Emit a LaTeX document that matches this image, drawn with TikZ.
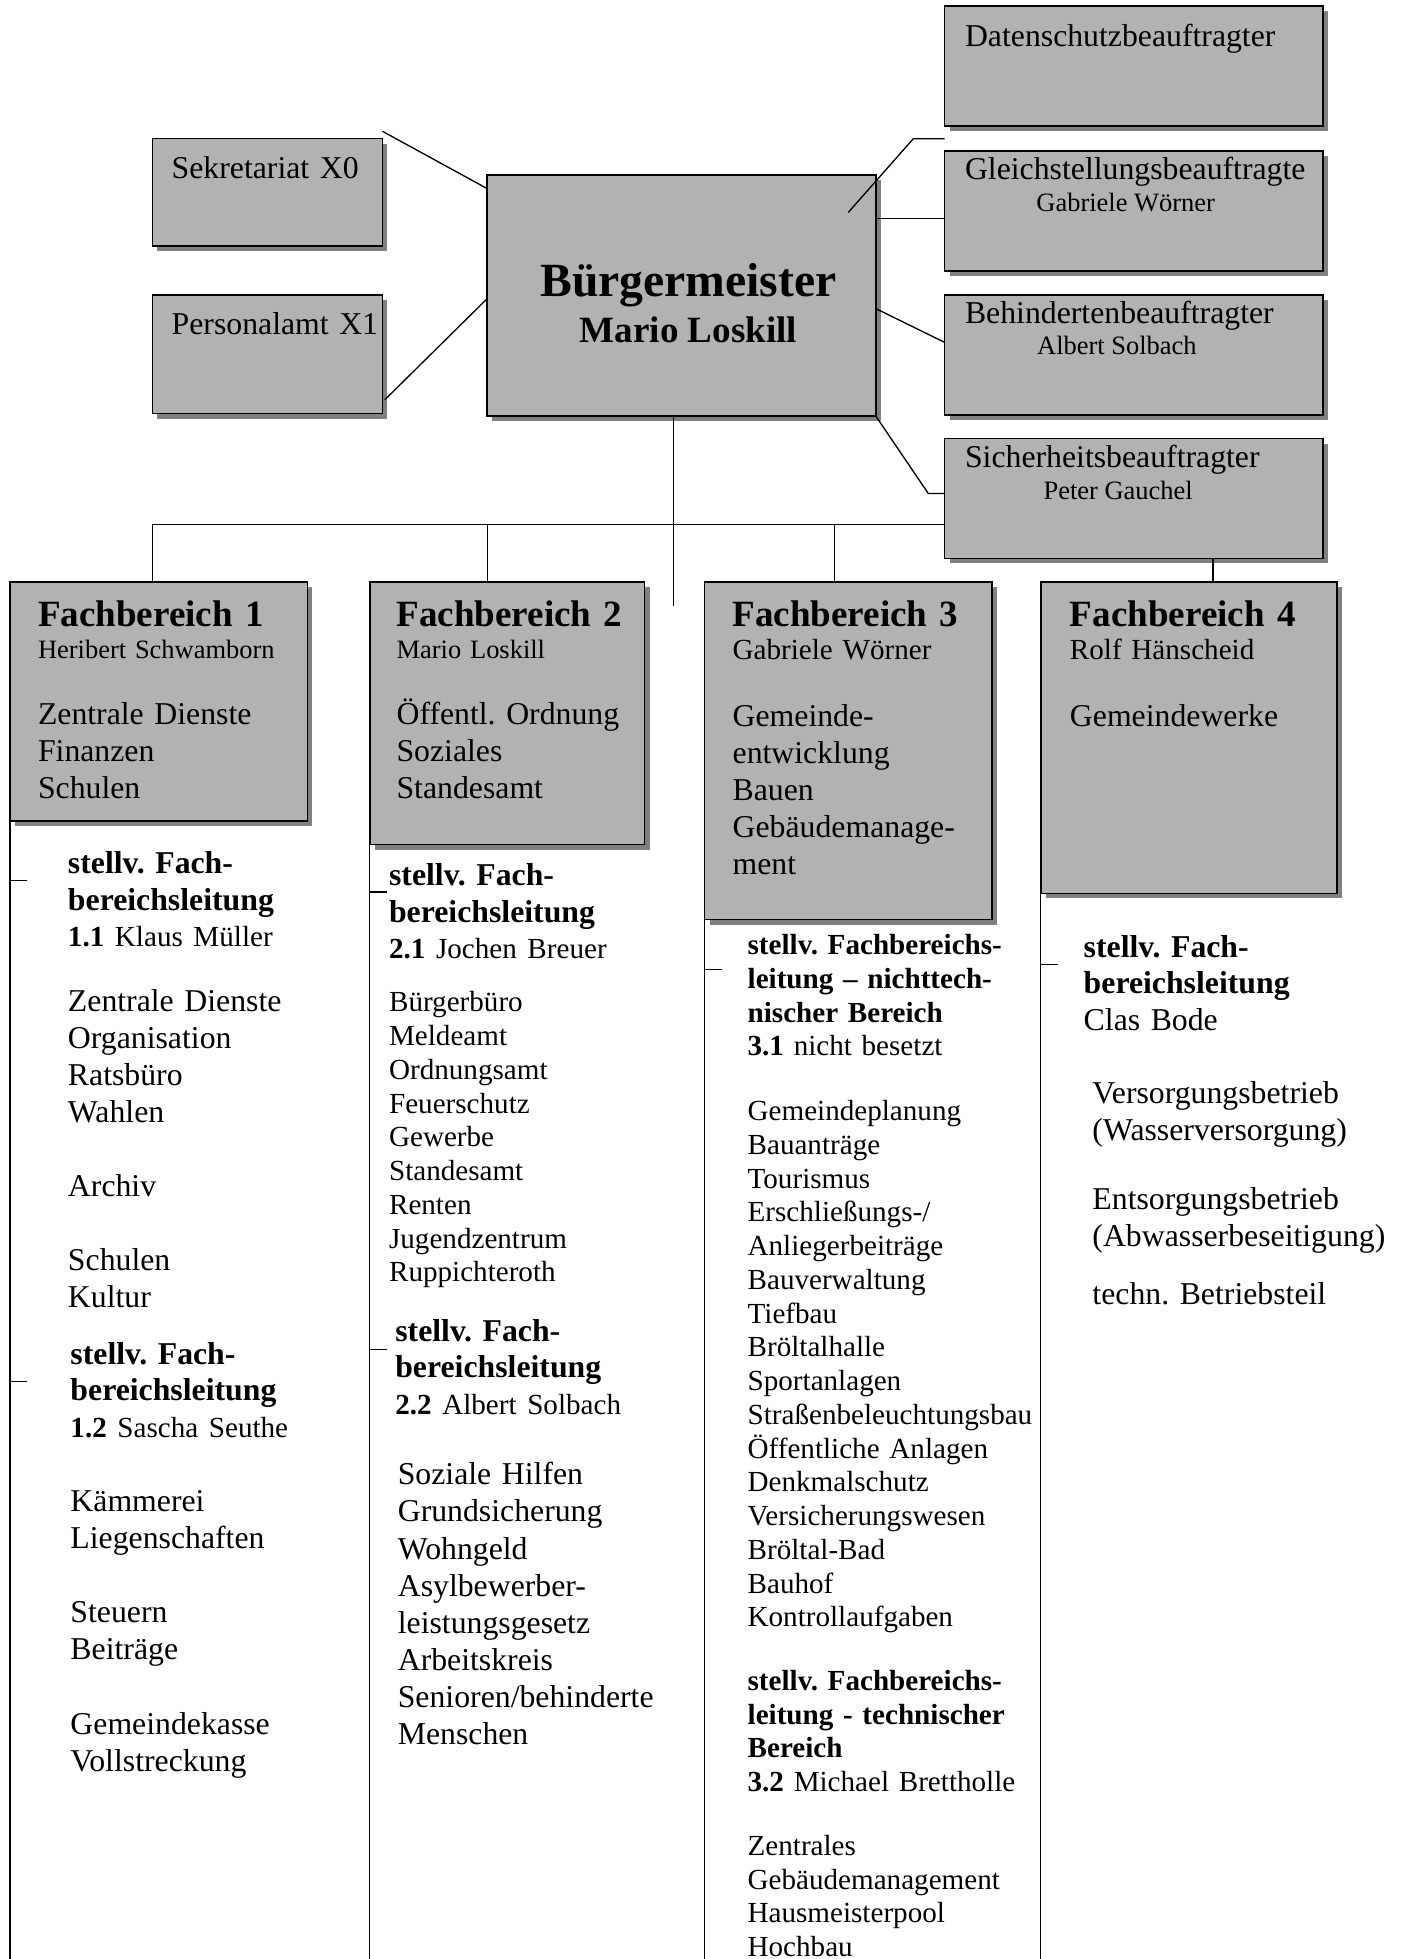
\documentclass[tikz,border=0pt]{standalone}
\usepackage{fontspec}
\setmainfont{Liberation Serif}
\frenchspacing
\usetikzlibrary{shapes,positioning,shadows,calc}

\newcommand{\px}{0.472pt}
\newcommand{\vertreter}[2]{{\mdseries\fontsize{11}{12.75}\selectfont\textbf{#1} #2}}

\begin{document}
\begin{tikzpicture}[
    x=\px, y=-\px,
    amt/.style={
        draw=black,
        line width=0.6pt,
        fill=black!30,
        anchor=north west,
        inner sep=0pt,
        outer sep=0pt,
        drop shadow={shadow xshift=1.9pt, shadow yshift=-1.9pt,
                     fill=black!50, opacity=1}
    },
    verb/.style={
        black,
        line width=0.5pt
    },
    txt/.style={
        anchor=base west,
        inner sep=0pt,
        text width=8cm,
        align=left
    },
    gross/.style={txt, font=\fontsize{12}{14}\selectfont},
    klein/.style={txt, font=\fontsize{11}{12.75}\selectfont},
    kopf/.style={txt, font=\fontsize{12}{13.8}\selectfont\bfseries},
    kopfklein/.style={txt, font=\fontsize{11}{12.75}\selectfont\bfseries},
    titel/.style={txt, font=\fontsize{14}{16}\selectfont\bfseries},
    leiter/.style={anchor=base, inner sep=0pt}
]
\useasboundingbox (0,0) rectangle (1122,1568);

% Buergermeister
\node[amt, minimum width=311*\px, minimum height=193*\px] at (390,140) (bgm) {};
\node[leiter, font=\fontsize{18}{20}\selectfont\bfseries] at (551,237.5) (bgm-t) {Bürgermeister};
\node[leiter, font=\fontsize{14}{16}\selectfont\bfseries] at (551,274) (bgm-n) {Mario Loskill};

% Stabsstellen links
\node[amt, minimum width=184*\px, minimum height=86*\px] at (122,111) (sekr) {};
\node[gross] at (137,143) (sekr-t) {Sekretariat X0};
\node[amt, minimum width=184*\px, minimum height=95*\px] at (122,236) (pers) {};
\node[gross] at (137,268) (pers-t) {Personalamt X1};

% Beauftragte rechts
\node[amt, minimum width=303*\px, minimum height=96*\px] at (756,5) (dsb) {};
\node[gross] at (772,37) (dsb-t) {Datenschutzbeauftragter};
\node[amt, minimum width=303*\px, minimum height=96*\px] at (756,121) (gsb) {};
\node[gross] at (772,143.5) (gsb-t) {Gleichstellungsbeauftragte};
\node[leiter, font=\fontsize{10}{12}\selectfont] at (901,169.5) (gsb-n) {Gabriele Wörner};
\node[amt, minimum width=303*\px, minimum height=96*\px] at (756,236) (bhb) {};
\node[gross] at (772,259) (bhb-t) {Behindertenbeauftragter};
\node[leiter, font=\fontsize{10}{12}\selectfont] at (894,284) (bhb-n) {Albert Solbach};
\node[amt, minimum width=303*\px, minimum height=96*\px] at (756,351) (sib) {};
\node[gross] at (772,374.5) (sib-t) {Sicherheitsbeauftragter};
\node[leiter, font=\fontsize{10}{12}\selectfont] at (895,399.5) (sib-n) {Peter Gauchel};

% Fachbereich 1
\node[amt, minimum width=238*\px, minimum height=191*\px] at (8,466) (fb1) {};
\node[titel] at (30,501.5) (fb1-t) {Fachbereich 1};
\node[txt, font=\fontsize{10}{12}\selectfont] at (30,527) (fb1-n) {Heribert Schwamborn};
\node[gross] at (30,579.5) (fb1-a) {Zentrale Dienste\\Finanzen\\Schulen};

% Fachbereich 2
\node[amt, minimum width=220*\px, minimum height=210*\px] at (296,466) (fb2) {};
\node[titel] at (317,501.5) (fb2-t) {Fachbereich 2};
\node[txt, font=\fontsize{10}{12}\selectfont] at (317,527) (fb2-n) {Mario Loskill};
\node[gross] at (317,579.5) (fb2-a) {Öffentl. Ordnung\\Soziales\\Standesamt};

% Fachbereich 3
\node[amt, minimum width=230*\px, minimum height=270*\px] at (564,466) (fb3) {};
\node[titel] at (586,501.5) (fb3-t) {Fachbereich 3};
\node[txt, font=\fontsize{11}{13}\selectfont] at (586,528) (fb3-n) {Gabriele Wörner};
\node[gross] at (586,581.5) (fb3-a) {Gemeinde-\\entwicklung\\Bauen\\Gebäudemanage-\\ment};

% Fachbereich 4
\node[amt, minimum width=237*\px, minimum height=249*\px] at (833,466) (fb4) {};
\node[titel] at (856,501.5) (fb4-t) {Fachbereich 4};
\node[txt, font=\fontsize{11}{13}\selectfont] at (856,528) (fb4-n) {Rolf Hänscheid};
\node[gross] at (856,581.5) (fb4-a) {Gemeindewerke};

% Stabsstellen anbinden
\draw[verb] ([shift={(0,-6)}]sekr.north east) -- ([shift={(0,11)}]bgm.north west);
\draw[verb] ([shift={(2,-11)}]pers.south east) -- ([shift={(0,99)}]bgm.north west);
\coordinate (dsb-end) at ($(dsb.south west)!0.5!(gsb.north west)$);
\draw[verb] ([shift={(-22,30)}]bgm.north east) -- ([shift={(-25,0)}]dsb-end) -- (dsb-end);
\draw[verb] ([shift={(0,35)}]bgm.north east) -- ([shift={(0,54)}]gsb.north west);
\draw[verb] ([shift={(0,107)}]bgm.north east) -- ([shift={(0,38)}]bhb.north west);
\draw[verb] (bgm.south east) -- ([shift={(-13,44)}]sib.north west) -- ([shift={(0,44)}]sib.north west);

% Fachbereiche anbinden
\coordinate (bus) at ([shift={(0,69)}]sib.north west);
\coordinate (fb1-top) at ([shift={(114,0)}]fb1.north west);
\coordinate (fb2-top) at ([shift={(94,0)}]fb2.north west);
\coordinate (fb3-top) at ([shift={(104,0)}]fb3.north west);
\coordinate (fb4-top) at ([shift={(63.5,0)}]sib.south);
\draw[verb] ([shift={(-6.5,0)}]bgm.south) -- ([shift={(-6.5,152)}]bgm.south);
\draw[verb] (bus) -| (fb1-top);
\draw[verb] (fb2-top) -- (fb2-top |- bus);
\draw[verb] (fb3-top) -- (fb3-top |- bus);
\draw[verb] (fb4-top) -- (fb4-top |- fb4.north);

% Spalten unter den Fachbereichen
\coordinate (unten) at (0,1568);
\foreach \fb in {fb1,fb2,fb3,fb4}
    \draw[verb] (\fb.south west) -- (\fb.south west |- unten);
\foreach \fb/\dy in {fb1/48, fb1/449, fb2/38, fb2/404, fb3/40, fb4/57}
    \draw[verb] ([shift={(0,\dy)}]\fb.south west) -- ++(14,0);

% Spalte 1
\node[kopf] at (54,699.5) (fb1-s1) {stellv. Fach-\\bereichsleitung\\\vertreter{1.1}{Klaus Müller}};
\node[gross] at (54,809.5) (fb1-l1) {Zentrale Dienste\\Organisation\\Ratsbüro\\Wahlen\\[14pt]Archiv\\[14pt]Schulen\\Kultur};
\node[kopf] at (56,1092) (fb1-s2) {stellv. Fach-\\bereichsleitung\\\vertreter{1.2}{Sascha Seuthe}};
\node[gross] at (56,1210) (fb1-l2) {Kämmerei\\Liegenschaften\\[14pt]Steuern\\Beiträge\\[14pt]Gemeindekasse\\Vollstreckung};

% Spalte 2
\node[kopf] at (311,709) (fb2-s1) {stellv. Fach-\\bereichsleitung\\\vertreter{2.1}{Jochen Breuer}};
\node[klein] at (311,810) (fb2-l1) {Bürgerbüro\\Meldeamt\\Ordnungsamt\\Feuerschutz\\Gewerbe\\Standesamt\\Renten\\Jugendzentrum\\Ruppichteroth};
\node[kopf] at (316,1073.5) (fb2-s2) {stellv. Fach-\\bereichsleitung\\\vertreter{2.2}{Albert Solbach}};
\node[gross] at (318,1188.5) (fb2-l2) {Soziale Hilfen\\Grundsicherung\\Wohngeld\\Asylbewerber-\\leistungsgesetz\\Arbeitskreis\\Senioren/behinderte\\Menschen};

% Spalte 3
\node[kopfklein] at (598,764) (fb3-s1) {stellv. Fachbereichs-\\leitung – nichttech-\\nischer Bereich\\{\mdseries\textbf{3.1} nicht besetzt}};
\node[klein] at (598,897) (fb3-l1) {Gemeindeplanung\\Bauanträge\\Tourismus\\Erschließungs-/\\Anliegerbeiträge\\Bauverwaltung\\Tiefbau\\Bröltalhalle\\Sportanlagen\\Straßenbeleuchtungsbau\\Öffentliche Anlagen\\Denkmalschutz\\Versicherungswesen\\Bröltal-Bad\\Bauhof\\Kontrollaufgaben};
\node[kopfklein] at (598,1353) (fb3-s2) {stellv. Fachbereichs-\\leitung - technischer\\Bereich\\{\mdseries\textbf{3.2} Michael Brettholle}};
\node[klein] at (598,1485) (fb3-l2) {Zentrales\\Gebäudemanagement\\Hausmeisterpool\\Hochbau};

% Spalte 4
\node[kopf] at (867,766) (fb4-s1) {stellv. Fach-\\bereichsleitung\\{\mdseries Clas Bode}};
\node[gross] at (874,883.5) (fb4-l1) {Versorgungsbetrieb\\(Wasserversorgung)\\[11.8pt]Entsorgungsbetrieb\\(Abwasserbeseitigung)\\[8pt]techn. Betriebsteil};
\end{tikzpicture}
\end{document}
